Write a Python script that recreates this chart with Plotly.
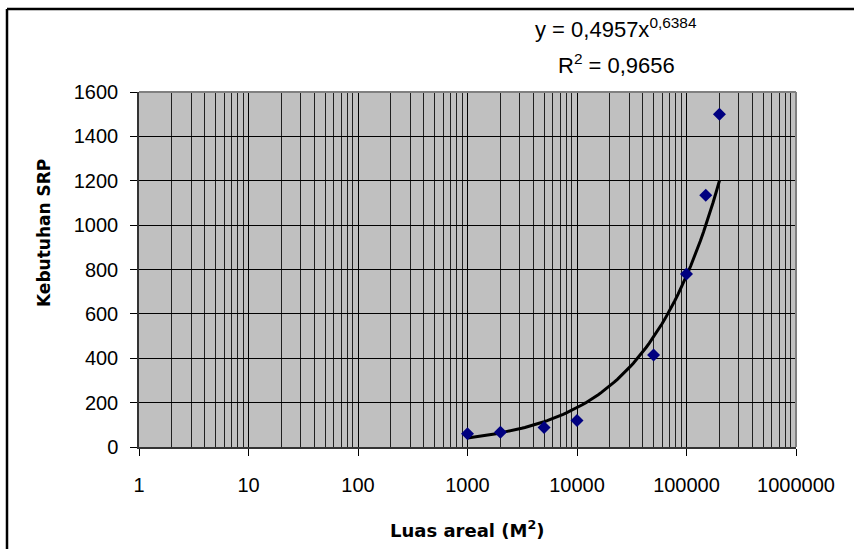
import numpy as np
import plotly.graph_objects as go

# Data
luas_areal = [1000, 2000, 5000, 10000, 50000, 100000, 150000, 200000]
kebutuhan_srp = [60, 66, 88, 120, 415, 780, 1135, 1500]

# Power trendline coefficients shown on the chart
coef_a = 0.4957
coef_b = 0.6384

x_tick_vals = [1, 10, 100, 1000, 10000, 100000, 1000000]
x_tick_text = ["1", "10", "100", "1000", "10000", "100000", "1000000"]
y_tick_vals = [0, 200, 400, 600, 800, 1000, 1200, 1400, 1600]

# Trendline drawn from the displayed equation over the data range
trend_x = np.logspace(np.log10(min(luas_areal)), np.log10(max(luas_areal)), 80)
trend_y = coef_a * trend_x ** coef_b

minor_vals = [k * 10 ** d for d in range(0, 6) for k in range(2, 10)]

W, H = 854, 549
L, R, T, B = 139, 58, 92, 102
pw, ph = W - L - R, H - T - B


def px(x):
    return (x - L) / pw


def py(y):
    return (H - B - y) / ph


fig = go.Figure()
fig.add_trace(go.Scatter(
    x=trend_x, y=trend_y, mode="lines",
    line=dict(color="black", width=3), hoverinfo="skip", showlegend=False))
fig.add_trace(go.Scatter(
    x=luas_areal, y=kebutuhan_srp, mode="markers",
    marker=dict(symbol="diamond", size=10, color="#000080",
                line=dict(width=0)),
    showlegend=False))

tick_font = dict(family="Liberation Sans, Arial, sans-serif", size=20, color="black")
title_font = dict(family="DejaVu Sans, sans-serif", size=18, color="black")
ytitle_font = dict(family="DejaVu Sans, sans-serif", size=17, color="black")
eq_font = dict(family="Liberation Sans, Arial, sans-serif", size=22, color="black")

fig.update_layout(
    width=W, height=H,
    margin=dict(l=L, r=R, t=T, b=B),
    paper_bgcolor="white", plot_bgcolor="#C0C0C0",
    xaxis=dict(
        type="log", range=[0, 6],
        tickvals=x_tick_vals, ticktext=x_tick_text,
        ticks="outside", ticklen=7, tickcolor="black", tickwidth=1,
        showgrid=True, gridcolor="black", gridwidth=1,
        minor=dict(tickvals=minor_vals, showgrid=True, gridcolor="#202020",
                   gridwidth=1, ticks=""),
        showline=True, linecolor="#333333", linewidth=2,
        tickfont=tick_font, ticklabelstandoff=12,
        zeroline=False,
    ),
    yaxis=dict(
        range=[0, 1600], tickvals=y_tick_vals,
        ticks="outside", ticklen=7, tickcolor="black", tickwidth=1,
        showgrid=True, gridcolor="black", gridwidth=1,
        showline=True, linecolor="#333333", linewidth=1.5,
        tickfont=tick_font, ticklabelstandoff=8,
        zeroline=False,
    ),
    shapes=[
        # plot area border (top and right, gray)
        dict(type="line", xref="paper", yref="paper", x0=0, x1=1, y0=1, y1=1,
             line=dict(color="#808080", width=2)),
        dict(type="line", xref="paper", yref="paper", x0=1, x1=1, y0=0, y1=1,
             line=dict(color="#808080", width=2)),
        # chart frame (left and top visible)
        dict(type="line", xref="paper", yref="paper", x0=px(7), x1=px(7),
             y0=py(9), y1=py(H + 20), line=dict(color="black", width=2.5)),
        dict(type="line", xref="paper", yref="paper", x0=px(7), x1=px(W + 20),
             y0=py(9), y1=py(9), line=dict(color="black", width=2.5)),
    ],
    annotations=[
        dict(text="y = 0,4957x<sup>0,6384</sup>", xref="paper", yref="paper",
             x=px(616), y=py(28), xanchor="center", yanchor="middle",
             showarrow=False, font=eq_font),
        dict(text="R<sup>2</sup> = 0,9656", xref="paper", yref="paper",
             x=px(616), y=py(64), xanchor="center", yanchor="middle",
             showarrow=False, font=eq_font),
        dict(text="<b>Luas areal (M<sup>2</sup>)</b>", xref="paper", yref="paper",
             x=px(467), y=py(529), xanchor="center", yanchor="middle",
             showarrow=False, font=title_font),
        dict(text="<b>Kebutuhan SRP</b>", xref="paper", yref="paper",
             x=px(44), y=py(233), xanchor="center", yanchor="middle",
             textangle=-90, showarrow=False, font=ytitle_font),
    ],
)

fig.write_html("out.html", config={"displayModeBar": False},
               post_script="document.body.style.margin='0';document.body.style.overflow='hidden';")
